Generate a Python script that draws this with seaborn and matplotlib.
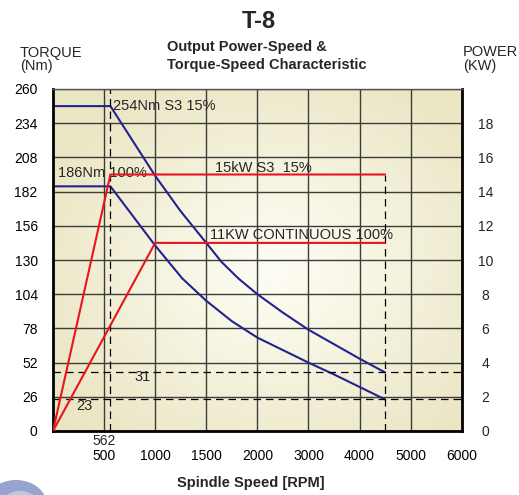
import numpy as np
import pandas as pd
import matplotlib
matplotlib.use("Agg")
import matplotlib.pyplot as plt
import seaborn as sns
from matplotlib.patches import Ellipse
from matplotlib.transforms import blended_transform_factory

# ---------------- data ----------------
rpm_breaks = [0, 500, 1000, 1500, 2000, 3000, 4000, 5000, 6000]   # non-uniform axis scale
rpm_ticks = [500, 1000, 1500, 2000, 3000, 4000, 5000, 6000]
rpm_tick_labels = ["500", "1000", "1500", "2000", "3000", "4000", "5000", "6000"]
torque_ticks = [0, 26, 52, 78, 104, 130, 156, 182, 208, 234, 260]
power_ticks = [0, 2, 4, 6, 8, 10, 12, 14, 16, 18]

# torque curves (Nm)
s3_torque_rpm = [0, 562, 1000, 1250, 1500, 1650, 1814, 2000, 2500, 3000, 3500, 4000, 4500]
s3_torque_nm = [247, 247, 194, 167, 143, 128.5, 116, 104, 90, 77, 66, 55, 44.5]
cont_torque_rpm = [0, 562, 1000, 1265, 1500, 1750, 2000, 2500, 3000, 3500, 4000, 4500]
cont_torque_nm = [186, 186, 141, 116, 99, 83.5, 71, 61.5, 52, 43, 33.5, 24]

# power curves (kW)
s3_power_rpm = [0, 562, 4500]
s3_power_kw = [0, 15, 15]
cont_power_rpm = [0, 1000, 4500]
cont_power_kw = [0, 11, 11]

# reference (dashed) lines
base_speed = 562
max_speed = 4500
ref_torque_levels = [44.5, 24]
ref_torque_labels = ["31", "23"]

annotations = [
    ("254Nm S3 15%", 590, 247),
    ("186Nm 100%", 45, 196),
    ("15kW S3  15%", 1590, 200),
    ("11KW CONTINUOUS 100%", 1540, 149),
]

# ---------------- style ----------------
sns.set_style("white")
plt.rcParams['font.family'] = ['Liberation Sans', 'DejaVu Sans']

W, H = 519, 495
fig = plt.figure(figsize=(W / 100, H / 100), dpi=100)
L, R, T, B = 53, 461.7, 89, 431
pos = [L / W, 1 - B / H, (R - L) / W, (B - T) / H]

# background gradient
bg = fig.add_axes(pos, zorder=0)
ny, nx = 300, 300
yy, xx = np.mgrid[0:1:ny * 1j, 0:1:nx * 1j]
cx, cy = 0.54, 0.47
r = np.sqrt(((xx - cx) / 0.62) ** 2 + ((yy - cy) / 0.62) ** 2)
t = np.clip(r, 0, 1) ** 1.1
c0 = np.array([254, 253, 244]) / 255
c1 = np.array([235, 230, 196]) / 255
img = c0[None, None, :] * (1 - t[..., None]) + c1[None, None, :] * t[..., None]
bg.imshow(img, origin="lower", extent=(0, 1, 0, 1), aspect="auto")
bg.set_axis_off()

ax = fig.add_axes(pos, zorder=1)
ax.set_facecolor("none")

fwd = lambda x: np.interp(x, rpm_breaks, np.arange(len(rpm_breaks)))
inv = lambda i: np.interp(i, np.arange(len(rpm_breaks)), rpm_breaks)
ax.set_xscale("function", functions=(fwd, inv))

navy = "#22238e"
red = "#e8141e"
grid_c = "#3c3c38"

sns.lineplot(x=s3_torque_rpm, y=s3_torque_nm, ax=ax, color=navy, lw=1.5,
             sort=False, estimator=None)
sns.lineplot(x=cont_torque_rpm, y=cont_torque_nm, ax=ax, color=navy, lw=1.5,
             sort=False, estimator=None)

ax.set_xlim(0, 6000)
ax.set_ylim(0, 260)
ax.set_xticks(rpm_ticks)
ax.set_xticklabels(rpm_tick_labels)
ax.set_yticks(torque_ticks)
ax.grid(True, color=grid_c, lw=1.0, zorder=0.5)
ax.set_axisbelow(True)
ax.tick_params(axis="both", length=0, labelsize=10, colors="black")
ax.tick_params(axis="x", pad=13)
ax.tick_params(axis="y", pad=11)
ax.set_xlabel("")
ax.set_ylabel("")
for side in ["left", "bottom", "right"]:
    ax.spines[side].set_visible(True)
    ax.spines[side].set_color("black")
    ax.spines[side].set_linewidth(2.0)
ax.spines["top"].set_visible(True)
ax.spines["top"].set_color("#555555")
ax.spines["top"].set_linewidth(1.0)

# dashed references
dash = dict(color="black", lw=0.9, ls=(0, (6, 4)))
ax.axvline(base_speed, **dash)
for lvl in ref_torque_levels:
    ax.axhline(lvl, **dash)

ax2 = ax.twinx()
ax2.set_ylim(0, 20)
ax2.vlines(max_speed, 0, s3_power_kw[-1], **dash)
sns.lineplot(x=s3_power_rpm, y=s3_power_kw, ax=ax2, color=red, lw=1.5,
             sort=False, estimator=None)
sns.lineplot(x=cont_power_rpm, y=cont_power_kw, ax=ax2, color=red, lw=1.5,
             sort=False, estimator=None)
ax2.set_yticks(power_ticks)
ax2.tick_params(axis="y", length=0, labelsize=10, pad=17)
for lab in ax2.get_yticklabels():
    lab.set_horizontalalignment("center")
ax2.set_ylabel("")
for s in ax2.spines.values():
    s.set_visible(False)
ax2.grid(False)

# annotations
for txt, xr, yv in annotations:
    ax.text(xr, yv, txt, fontsize=10.5, ha="left", va="center", zorder=5)
ax.text(800, 41, ref_torque_labels[0], fontsize=10.5, ha="left", va="center")
ax.text(225, 19, ref_torque_labels[1], fontsize=10.5, ha="left", va="center")

trans = blended_transform_factory(ax.transData, ax.transAxes)
ax.text(500, -(441 - B) / (B - T), "562", transform=trans, fontsize=10,
        ha="center", va="center")

# figure texts
def ft(x, y, s, **kw):
    fig.text(x / W, 1 - y / H, s, **kw)

ft(259, 21, "T-8", fontsize=17, fontweight="bold", ha="center", va="center")
ft(167, 47, "Output Power-Speed &", fontsize=10.5, fontweight="bold", ha="left", va="center")
ft(167, 65, "Torque-Speed Characteristic", fontsize=10.5, fontweight="bold", ha="left", va="center")
ft(20, 52.5, "TORQUE", fontsize=10.5, ha="left", va="center")
ft(20, 66, "(Nm)", fontsize=10.5, ha="left", va="center")
ft(463, 52.5, "POWER", fontsize=10.5, ha="left", va="center")
ft(463, 66, "(KW)", fontsize=10.5, ha="left", va="center")
ft(251, 483, "Spindle Speed [RPM]", fontsize=10.5, fontweight="bold", ha="center", va="center")

# logo fragment bottom-left
fig.add_artist(Ellipse((0.16, -0.1), 0.62, 0.5, transform=fig.dpi_scale_trans,
                       facecolor="#8395c8", edgecolor="none", alpha=0.85))
fig.add_artist(Ellipse((0.2, -0.12), 0.4, 0.32, transform=fig.dpi_scale_trans,
                       facecolor="#c9d2ea", edgecolor="none", alpha=0.8))

fig.savefig("out.png", dpi=100)
